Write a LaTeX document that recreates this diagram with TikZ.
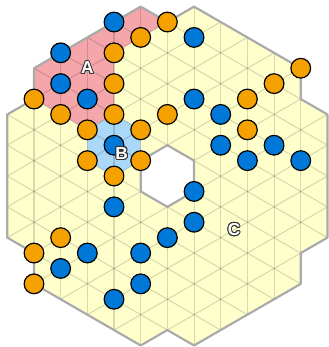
\documentclass[tikz,border=0pt]{standalone}
\usepackage{fontspec}
\setmainfont{Liberation Sans}
\usepackage[copies]{contour}
\contourlength{0.8pt}
\definecolor{cellyellow}{RGB}{255,255,204}
\definecolor{cellpink}{RGB}{244,166,170}
\definecolor{cellblue}{RGB}{170,216,248}
\definecolor{dotblue}{RGB}{0,120,215}
\definecolor{dotorange}{RGB}{245,162,0}
\definecolor{rimgray}{RGB}{170,170,170}
\tikzset{every picture/.style={line width=0.75pt}}
\newcommand\rimpath{(5,0) -- (6,1) -- (7,0) -- (11,4) -- (11,6) -- (12,7) -- (12,15) -- (11,16) -- (11,18) -- (7,22) -- (6,21) -- (5,22) -- (1,18) -- (1,16) -- (0,15) -- (0,7) -- (1,6) -- (1,4) -- cycle}
\newcommand\holepath{(6,9) -- (7,10) -- (7,12) -- (6,13) -- (5,12) -- (5,10) -- cycle}

\begin{document}
\begin{tikzpicture}[x={(0.866cm,0)},y={(0,-0.5cm)},
    dot/.style={circle,draw=black,line width=1.1pt,minimum size=0.64cm,inner sep=0pt},
    bluedot/.style={dot,fill=dotblue},
    orangedot/.style={dot,fill=dotorange},
    gridline/.style={black,opacity=0.15,line width=1pt},
    rim/.style={rimgray,line width=2pt,line join=round},
    tag/.style={font=\fontsize{16}{16}\selectfont\bfseries,text=white,inner sep=0pt}]
    \useasboundingbox (-0.274,-0.43) rectangle (12.025,22.1);

    % 底色: C, A, B
    \fill[cellyellow] \rimpath;
    \fill[cellpink] (1,4) -- (5,0) -- (6,1) -- (5,2) -- (4,3) -- (4,7) -- (3,8) -- (2,7) -- (1,6) -- cycle;
    \fill[cellblue] (4,7) -- (5,8) -- (5,10) -- (4,11) -- (3,10) -- (3,8) -- cycle;

    % 三角网格
    \begin{scope}
        \clip \rimpath;
        \draw[gridline] \foreach \c in {0,...,12} {(\c,-1) -- (\c,23)};
        \draw[gridline] \foreach \m in {-13,-11,...,23} {(-1,\m-1) -- (13,\m+13)};
        \draw[gridline] \foreach \m in {-1,1,...,35} {(-1,\m+1) -- (13,\m-13)};
    \end{scope}

    % 中间的孔与外框
    \fill[white] \holepath;
    \draw[rim] \holepath;
    \draw[rim] \rimpath;

    % 蓝点
    \foreach \c/\m [count=\i] in {4/1,2/3,2/5,3/6,4/9,7/2,7/6,8/7,8/9,10/9,9/10,11/10,4/13,7/12,7/14,6/15,3/16,2/17,5/16,5/18,4/19}
        \node[bluedot] (b\i) at (\c,\m) {};

    % 橙点
    \foreach \c/\m [count=\i] in {6/1,5/2,4/3,4/5,1/6,2/7,4/7,3/8,5/8,3/10,5/10,4/11,6/7,9/6,10/5,11/4,9/8,2/15,1/16,1/18}
        \node[orangedot] (o\i) at (\c,\m) {};

    % 区域标记
    \node[tag] (tagA) at (3,4) {\contour{black!80}{A}};
    \node[tag] (tagB) at (4.29,9.55) {\contour{black!80}{B}};
    \node[tag] (tagC) at (8.5,14.5) {\contour{black!80}{C}};
\end{tikzpicture}
\end{document}
